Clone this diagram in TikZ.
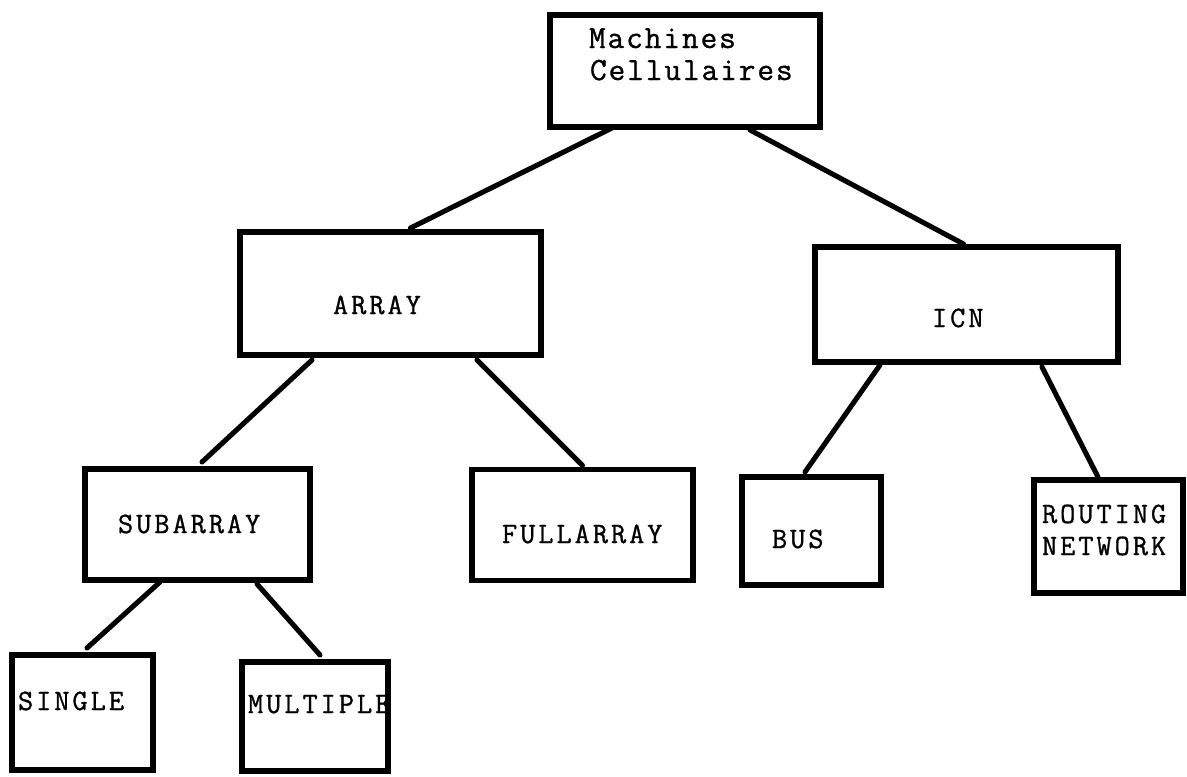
\documentclass[tikz,border=0pt]{standalone}
\usepackage{fontspec}
\newfontfamily\capsfont{Latin Modern Mono}[LetterSpace=10, FakeBold=1]
\newfontfamily\mixfont{Latin Modern Mono}[LetterSpace=6, FakeBold=1]
\usetikzlibrary{calc}
\tikzset{
  box/.style 2 args={draw=black, line width=4.2pt, fill=white, inner sep=0pt, outer sep=0pt,
    minimum width={#1*0.025cm}, minimum height={#2*0.025cm}},
  lbl/.style={anchor=base west, inner sep=0pt, outer sep=0pt, font=\capsfont\fontsize{21pt}{22.8pt}\selectfont},
  lblmix/.style={anchor=base west, inner sep=0pt, outer sep=0pt, font=\mixfont\fontsize{23pt}{22.8pt}\selectfont},
  conn/.style={draw=black, line width=3.6pt, line cap=round}
}
\begin{document}
\begin{tikzpicture}[x=0.025cm, y=-0.025cm]
\useasboundingbox (0,0) rectangle (1187,776);
% boxes
\node[box={270}{112}] (m) at (685,71) {};
\node[box={301}{123}] (array) at (390.5,293.5) {};
\node[box={303}{115}] (icn) at (966.5,304.5) {};
\node[box={225}{111}] (sub) at (197.5,524.5) {};
\node[box={221}{111}] (full) at (582.5,525) {};
\node[box={139}{108}] (bus) at (811.5,531) {};
\node[box={149}{113}] (rout) at (1108.5,536.5) {};
\node[box={141}{115}] (single) at (82.5,712.5) {};
\node[box={146}{109}] (mult) at (315,716.5) {};
% labels
\node[lblmix] (t1) at (589,48) {Machines};
\node[lblmix] (t2) at (590,80) {Cellulaires};
\node[lbl] (t3) at (333,314) {ARRAY};
\node[lbl] (t4) at (932,327) {ICN};
\node[lbl] (t5) at (118,533) {SUBARRAY};
\node[lbl] (t6) at (502,543) {FULLARRAY};
\node[lbl] (t7) at (772,548) {BUS};
\node[lbl] (t8) at (1042,523) {ROUTING};
\node[lbl] (t9) at (1042,555) {NETWORK};
\node[lbl] (t10) at (18,710) {SINGLE};
\node[lbl] (t11) at (248,713) {MULTIPLE};
% connectors
\draw[conn] ($(m.south)+(-73,1)$) -- ($(array.north)+(20,-4)$);
\draw[conn] ($(m.south)+(65,3)$) -- ($(icn.north)+(-3,-3)$);
\draw[conn] ($(array.south)+(-78.5,5)$) -- ($(sub.north)+(4.5,-7)$);
\draw[conn] ($(array.south)+(86.5,5)$) -- ($(full.north)+(0,-4)$);
\draw[conn] ($(icn.south)+(-86.5,3)$) -- ($(bus.north)+(-6.5,-5)$);
\draw[conn] ($(icn.south)+(75.5,5)$) -- ($(rout.north)+(-10.5,-3)$);
\draw[conn] ($(sub.south)+(-37.5,2)$) -- ($(single.north)+(4.5,-7)$);
\draw[conn] ($(sub.south)+(59.5,4)$) -- ($(mult.north)+(5,-7)$);
\end{tikzpicture}
\end{document}
